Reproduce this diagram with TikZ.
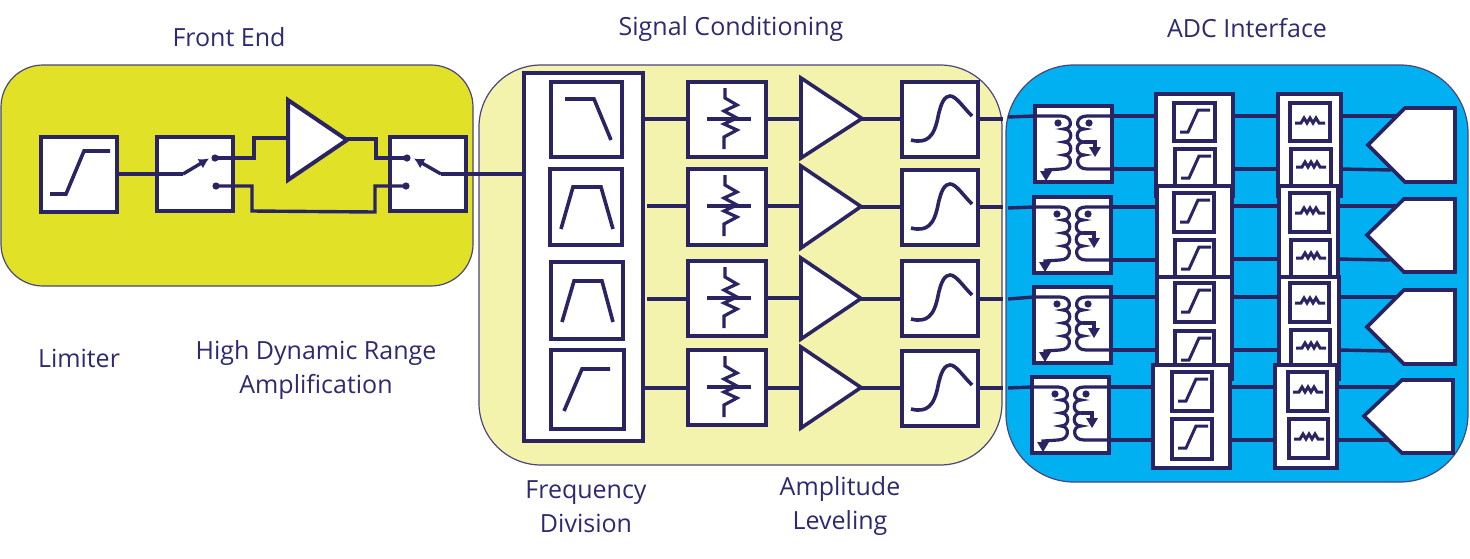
\documentclass[tikz,border=0pt]{standalone}
\usepackage{fontspec}
\setmainfont{Open Sans}
\usetikzlibrary{arrows.meta}
\definecolor{ink}{HTML}{2A2463}
\definecolor{txt}{HTML}{2F2A70}
\definecolor{fronty}{HTML}{E1E128}
\definecolor{signy}{HTML}{F4F3AD}
\definecolor{adcb}{HTML}{00B0F0}
\tikzset{
  panel/.style={draw=ink!85,line width=1.2pt},
  blk/.style={draw=ink,fill=white,line width=3.8pt,inner sep=0pt,outer sep=0pt},
  inner/.style={blk,line width=3.6pt},
  sym/.style={draw=ink,line width=3.6pt,line join=miter},
  smallsym/.style={draw=ink,line width=3pt},
  wire/.style={draw=ink,line width=3.4pt},
  lab/.style={text=txt,font=\fontsize{25}{25}\selectfont,inner sep=0pt},
  tip/.style={-{Latex[length=10pt,width=11pt]},line width=3.4pt,draw=ink,fill=ink},
}
\newcommand{\bx}[6][blk]{\node[#1,minimum width={(#5-#3)*1pt},minimum height={(#6-#4)*1pt}] (#2) at ({(#3+#5)/2},{(#4+#6)/2}) {};}
\newcommand{\limcurve}[2]{\draw[sym,shift={(#1,#2)}] (9,57) -- (25,57) -- (43,14) -- (69,14);}
\newcommand{\atten}[2]{\begin{scope}[shift={(#1,#2)}]
  \draw[sym,line width=3.2pt] (37,6) -- (37,16) -- (49,23) -- (36,29) -- (49,36) -- (36,42) -- (49,48) -- (36,55) -- (36,67);
  \draw[sym,line width=3.2pt] (19,37) -- (63,37);\end{scope}}
\newcommand{\scurve}[2]{\draw[sym,shift={(#1,#2)}] (9,58) .. controls (25,62) and (32,55) .. (36,35) .. controls (39,20) and (43,14) .. (48,14) .. controls (54,14) and (60,24) .. (70,34);}
\newcommand{\slim}[2]{\draw[smallsym,shift={(#1,#2)}] (6,29) -- (14,29) -- (24,7) -- (36,7);}
\newcommand{\sflt}[2]{\draw[smallsym,shift={(#1,#2)}] (5,20) -- (11,20) -- (14,15) -- (17,20) -- (20,15) -- (23,20) -- (26,15) -- (29,20) -- (35,20);}
\newcommand{\xfmr}[3]{\bx{#1}{#2}{#3}{#2+77}{#3+76}
  \begin{scope}[shift={(#2,#3)}]
  \draw[sym,line width=3.2pt] (0,10) -- (26,10) .. controls (38,10) and (38,23) .. (29,23) .. controls (38,23) and (38,36) .. (29,36) .. controls (38,36) and (38,49) .. (29,49) .. controls (38,49) and (38,63) .. (26,63) -- (11,64) -- (11,68);
  \draw[sym,line width=3.2pt] (77,10) -- (52,10) .. controls (40,10) and (40,23) .. (49,23) .. controls (40,23) and (40,36) .. (49,36) .. controls (40,36) and (40,49) .. (49,49) .. controls (40,49) and (40,63) .. (52,63) -- (77,63);
  \draw[sym,line width=3.2pt] (49,36) -- (60,36) -- (60,41);
  \fill[ink] (23,17) circle (3.6pt) (54,17) circle (3.6pt);
  \fill[ink] (5,65) -- (17,65) -- (11,75) -- cycle;
  \fill[ink] (54,41) -- (66,41) -- (60,51) -- cycle;
  \end{scope}}
\begin{document}
\begin{tikzpicture}[x=1pt,y=-1pt]
\useasboundingbox[fill=white] (0,0) rectangle (1470,558);
% panels
\draw[panel,fill=fronty,rounded corners=42pt] (1,65) rectangle (473,286);
\draw[panel,fill=signy,rounded corners=62pt] (479,65) rectangle (1002,465);
\draw[panel,fill=adcb,rounded corners=68pt] (1006,65) rectangle (1468,482);
% labels
\node[lab] (tfe) at (229,37) {Front End};
\node[lab] (tsc) at (731,29) {Signal Conditioning};
\node[lab] (tadc) at (1247,28) {ADC Interface};
\node[lab] (tlim) at (79,358) {Limiter};
\node[lab,align=center,font=\fontsize{25}{34}\selectfont] (thd) at (316,370) {High Dynamic Range\\Amplification};
\node[lab,align=center,font=\fontsize{25}{34}\selectfont] (tfd) at (586,507) {Frequency\\Division};
\node[lab,align=center,font=\fontsize{25}{34}\selectfont] (tal) at (840,506) {Amplitude\\Leveling};
% front end
\bx{lim}{41}{137}{117}{212}
\limcurve{41}{137}
\bx{swa}{157}{137}{233}{211}
\bx{swb}{390}{137}{466}{211}
\coordinate (ampin) at (288,138);
\coordinate (ampout) at (347,139);
\draw[sym,fill=white,line width=4pt] (288,100) -- (347,140) -- (288,180) -- cycle;
\coordinate (ca) at (215,158);
\coordinate (cb) at (216,186);
\coordinate (cc) at (407,158);
\coordinate (cd) at (406,186);
\draw[wire] (lim.east |- 0,174) -- (swa.west |- 0,174);
\draw[wire] (swa.west |- 0,174) -- (183,174);
\draw[tip] (183,174) -- (209,158.5);
\draw[wire,line join=miter] (ca) -- (254,158) -- (254,138) -- (ampin);
\draw[wire,line join=miter] (cb) -- (252,186) -- (252,211) -- (375,212) -- (375,186) -- (cd);
\draw[wire,line join=miter] (ampout) -- (376,139) -- (376,158) -- (cc);
\fill[ink] (ca) circle (3.6pt) (cb) circle (3.6pt) (cc) circle (3.6pt) (cd) circle (3.6pt);
\draw[tip] (441,174) -- (414,158.5);
% frequency division
\bx{fb}{524}{73}{643}{441}
\bx[inner]{fa}{551}{82}{622}{157}
\bx[inner]{fbb}{550}{169}{622}{245}
\bx[inner]{fc}{551}{262}{623}{339}
\bx[inner]{fd}{551}{350}{624}{429}
\draw[sym] (565,99) -- (594,99) -- (611,140);
\draw[sym] (561,229) -- (573,187) -- (601,187) -- (613,229);
\draw[sym] (562,322) -- (574,281) -- (602,281) -- (613,322);
\draw[sym] (564,411) -- (582,369) -- (610,369);
\draw[wire] (441,174) -- (fb.west |- 0,174);
% attenuators, amplifiers, shaping
\bx{ata}{688}{82}{766}{157} \atten{688}{82}
\bx{atb}{688}{169}{766}{245} \atten{688}{169}
\bx{atc}{688}{261}{766}{336} \atten{688}{261}
\bx{atd}{688}{350}{766}{425} \atten{688}{350}
\draw[sym,fill=white] (801,78) -- (862,118.5) -- (801,158) -- cycle;
\draw[sym,fill=white] (801,166) -- (861,206.5) -- (801,248) -- cycle;
\draw[sym,fill=white] (801,258) -- (861,298.5) -- (801,339) -- cycle;
\draw[sym,fill=white] (801,347) -- (861,387.5) -- (801,428) -- cycle;
\coordinate (ai1) at (801,119); \coordinate (ao1) at (862,119);
\coordinate (ai2) at (801,206); \coordinate (ao2) at (861,207);
\coordinate (ai3) at (801,298); \coordinate (ao3) at (861,299);
\coordinate (ai4) at (801,388); \coordinate (ao4) at (861,388);
\bx{sga}{902}{82}{978}{157} \scurve{902}{82}
\bx{sgb}{902}{170}{978}{245} \scurve{902}{170}
\bx{sgc}{902}{261}{978}{336} \scurve{902}{261}
\bx{sgd}{902}{351}{978}{426} \scurve{902}{351}
% connectors in signal conditioning
\draw[wire] (fb.east |- 0,119) -- (ata.west |- 0,119);
\draw[wire] ([xshift=4pt]fb.east |- 0,206) -- (atb.west |- 0,206);
\draw[wire] ([xshift=4pt]fb.east |- 0,299) -- (atc.west |- 0,299);
\draw[wire] (fb.east |- 0,388) -- (atd.west |- 0,388);
\draw[wire] (ata.east |- 0,119) -- (ai1); \draw[wire] (ao1) -- (sga.west |- 0,119);
\draw[wire] (atb.east |- 0,206) -- (ai2); \draw[wire] (ao2) -- (sgb.west |- 0,207);
\draw[wire] (atc.east |- 0,298) -- (ai3); \draw[wire] (ao3) -- (sgc.west |- 0,299);
\draw[wire] (atd.east |- 0,388) -- (ai4); \draw[wire] (ao4) -- (sgd.west |- 0,388);
\coordinate (ea) at (1003,119); \coordinate (eb) at (1003,207); \coordinate (ec) at (1003,299); \coordinate (ed) at (1003,388);
\coordinate (ga) at (1008,117); \coordinate (gb) at (1008,208); \coordinate (gc) at (1008,299); \coordinate (gd) at (1008,388);
\draw[wire] (sga.east |- 0,119) -- (ea);
\draw[wire] (sgb.east |- 0,207) -- (eb);
\draw[wire] (sgc.east |- 0,299) -- (ec);
\draw[wire] (sgd.east |- 0,388) -- (ed);
% ADC interface
\xfmr{ta}{1035}{106}
\xfmr{tb}{1034}{197}
\xfmr{tc}{1034}{287}
\xfmr{td}{1032}{377}
% limiter columns
\bx{la}{1156}{94}{1233}{196}
\bx[inner]{laa}{1174}{103}{1215}{141} \slim{1174}{103}
\bx[inner]{lab}{1175}{149}{1215}{188} \slim{1175}{149}
\bx{lb}{1157}{186}{1232}{288}
\bx[inner]{lba}{1174}{193}{1214}{232} \slim{1174}{193}
\bx[inner]{lbb}{1175}{240}{1214}{279} \slim{1175}{240}
\bx{lc}{1157}{277}{1232}{379}
\bx[inner]{lca}{1175}{283}{1214}{322} \slim{1175}{283}
\bx[inner]{lcb}{1175}{331}{1214}{370} \slim{1175}{331}
\bx{ld}{1153}{365}{1230}{468}
\bx[inner]{lda}{1172}{372}{1212}{411} \slim{1172}{372}
\bx[inner]{ldb}{1172}{419}{1212}{459} \slim{1172}{419}
% filter columns
\bx{ra}{1278}{94}{1341}{196}
\bx[inner]{raa}{1290}{103}{1330}{141} \sflt{1290}{103}
\bx[inner]{rab}{1291}{149}{1331}{188} \sflt{1291}{147}
\bx{rb}{1279}{186}{1338}{288}
\bx[inner]{rba}{1290}{193}{1329}{232} \sflt{1290}{193}
\bx[inner]{rbb}{1291}{240}{1330}{279} \sflt{1291}{238}
\bx{rc}{1279}{277}{1339}{379}
\bx[inner]{rca}{1290}{283}{1329}{322} \sflt{1290}{283}
\bx[inner]{rcb}{1291}{330}{1330}{369} \sflt{1291}{328}
\bx{rd}{1275}{365}{1337}{468}
\bx[inner]{rda}{1288}{372}{1327}{411} \sflt{1288}{372}
\bx[inner]{rdb}{1289}{419}{1328}{458} \sflt{1289}{419}
% converters
\draw[sym,fill=white] (1455,108) -- (1405,108) -- (1368,145) -- (1405,182) -- (1455,182) -- cycle;
\draw[sym,fill=white] (1455,199) -- (1404,199) -- (1367,235) -- (1404,272) -- (1455,272) -- cycle;
\draw[sym,fill=white] (1455,290) -- (1404,290) -- (1367,327) -- (1404,364) -- (1455,364) -- cycle;
\draw[sym,fill=white] (1453,380) -- (1402,380) -- (1364,416) -- (1402,453) -- (1453,453) -- cycle;
\coordinate (pa1) at (1398,116); \coordinate (pa2) at (1391,170);
\coordinate (pb1) at (1397,206); \coordinate (pb2) at (1390,260);
\coordinate (pc1) at (1397,297); \coordinate (pc2) at (1390,351);
\coordinate (pd1) at (1394,387); \coordinate (pd2) at (1388,440);
% connectors in ADC interface
\draw[wire] (ga) -- (ta.west |- 0,116);
\draw[wire] (gb) -- (tb.west |- 0,207);
\draw[wire] (gc) -- (tc.west |- 0,297);
\draw[wire] (gd) -- (td.west |- 0,387);
\draw[wire] (ta.east |- 0,116) -- (la.west |- 0,116);
\draw[wire] (ta.east |- 0,169) -- (la.west |- 0,169);
\draw[wire] (tb.east |- 0,207) -- (lb.west |- 0,207);
\draw[wire] (tb.east |- 0,260) -- (lb.west |- 0,260);
\draw[wire] (tc.east |- 0,297) -- (lc.west |- 0,297);
\draw[wire] (tc.east |- 0,350) -- (lc.west |- 0,350);
\draw[wire] (td.east |- 0,387) -- (ld.west |- 0,387);
\draw[wire] (td.east |- 0,440) -- (ld.west |- 0,440);
\draw[wire] (la.east |- 0,116) -- (ra.west |- 0,116);
\draw[wire] (la.east |- 0,169) -- (ra.west |- 0,169);
\draw[wire] (lb.east |- 0,206) -- (rb.west |- 0,206);
\draw[wire] (lb.east |- 0,259) -- (rb.west |- 0,259);
\draw[wire] (lc.east |- 0,297) -- (rc.west |- 0,297);
\draw[wire] (lc.east |- 0,350) -- (rc.west |- 0,350);
\draw[wire] (ld.east |- 0,387) -- (rd.west |- 0,387);
\draw[wire] (ld.east |- 0,440) -- (rd.west |- 0,440);
\draw[wire] (ra.east |- 0,116) -- (pa1);
\draw[wire] (ra.east |- 0,169) -- (pa2);
\draw[wire] (rb.east |- 0,206) -- (pb1);
\draw[wire] (rb.east |- 0,259) -- (pb2);
\draw[wire] (rc.east |- 0,297) -- (pc1);
\draw[wire] (rc.east |- 0,350) -- (pc2);
\draw[wire] (rd.east |- 0,387) -- (pd1);
\draw[wire] (rd.east |- 0,440) -- (pd2);
\end{tikzpicture}
\end{document}
